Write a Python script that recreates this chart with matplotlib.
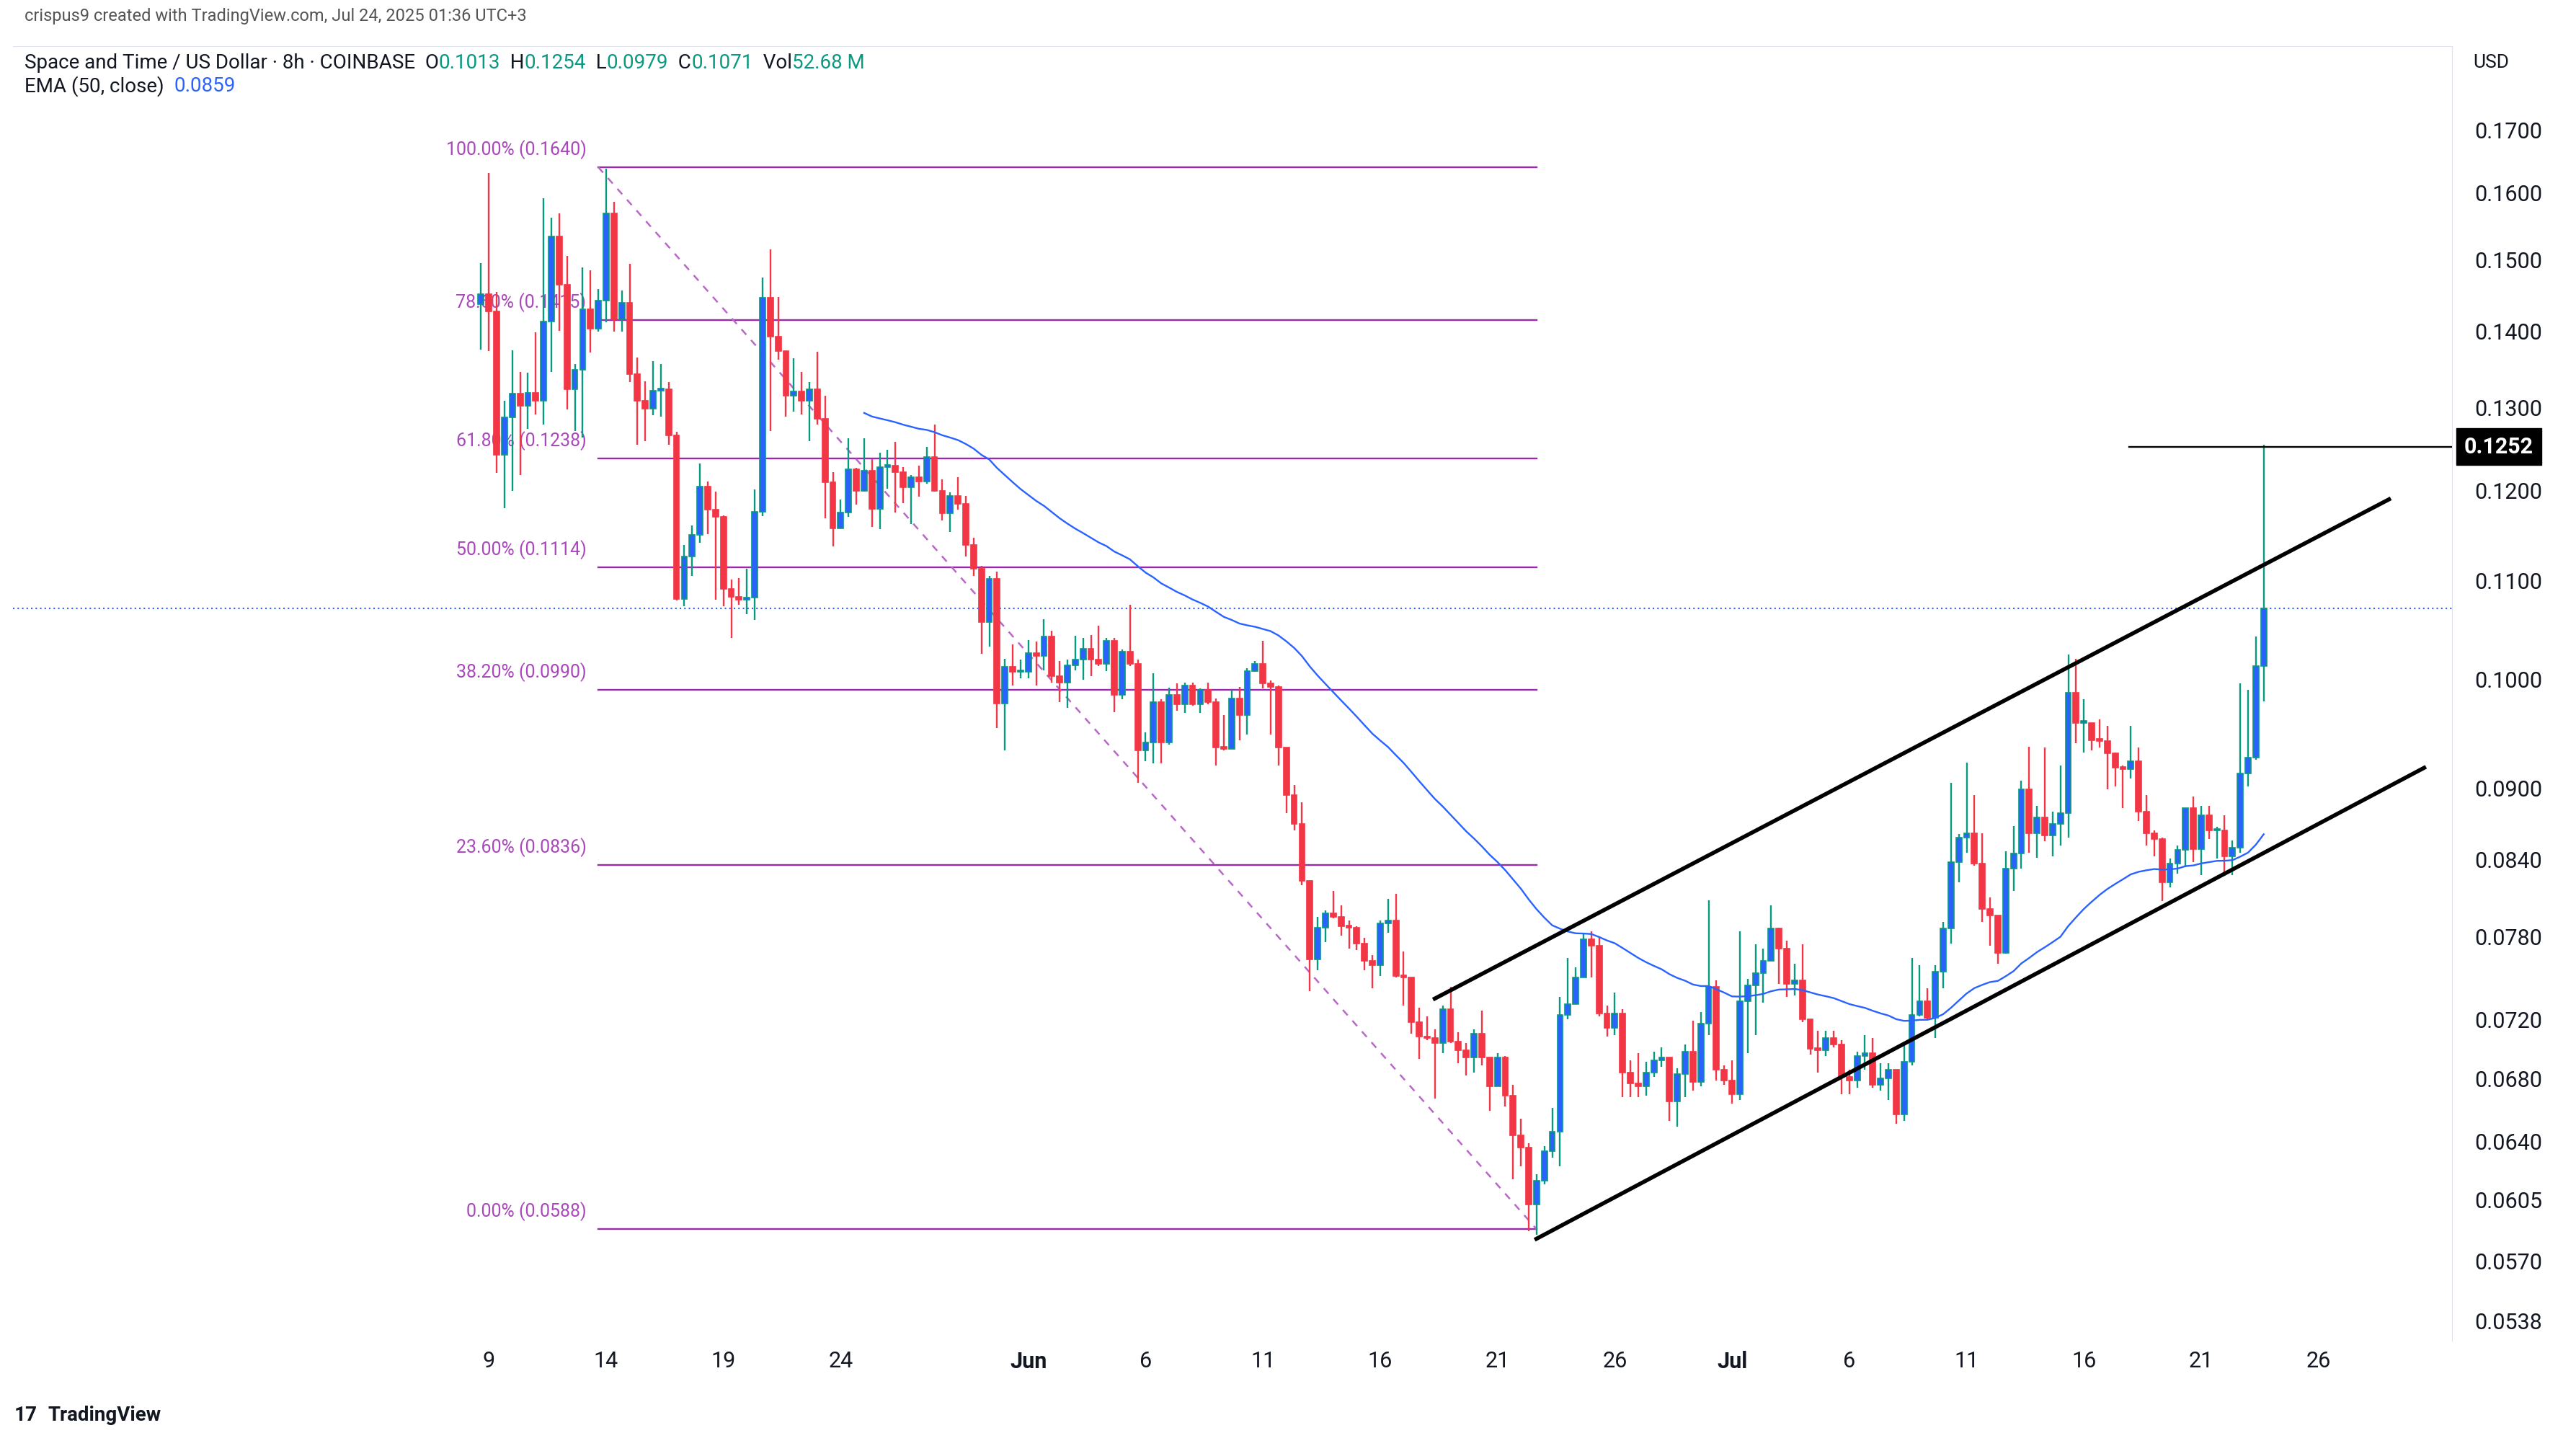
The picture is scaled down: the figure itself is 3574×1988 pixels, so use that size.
import matplotlib
matplotlib.use("Agg")
import matplotlib.pyplot as plt
import matplotlib.dates as mdates
import numpy as np
import pandas as pd
from datetime import datetime

plt.rcParams["font.family"] = "Roboto"

# 8h candles, first one at 2025-05-08 16:00
first_open = 0.1437
closes = [
    0.1451, 0.1427, 0.1242, 0.1288, 0.1318, 0.1302, 0.1319, 0.1309, 0.1413, 0.1534,
    0.1464, 0.1323, 0.1349, 0.1430, 0.1403, 0.1442, 0.1569, 0.1416, 0.1439, 0.1343,
    0.1309, 0.1299, 0.1322, 0.1323, 0.1266, 0.1081, 0.1126, 0.1150, 0.1205, 0.1178,
    0.1170, 0.1091, 0.1083, 0.1080, 0.1082, 0.1176, 0.1446, 0.1392, 0.1373, 0.1315,
    0.1321, 0.1309, 0.1323, 0.1286, 0.1210, 0.1157, 0.1175, 0.1225, 0.1200, 0.1223,
    0.1179, 0.1228, 0.1229, 0.1222, 0.1204, 0.1216, 0.1211, 0.1240, 0.1200, 0.1174,
    0.1194, 0.1185, 0.1139, 0.1113, 0.1057, 0.1102, 0.0977, 0.1012, 0.1007, 0.1007,
    0.1026, 0.1023, 0.1042, 0.1003, 0.0997, 0.1014, 0.1019, 0.1030, 0.1019, 0.1015,
    0.1038, 0.0985, 0.1027, 0.1015, 0.0934, 0.0941, 0.0978, 0.0941, 0.0985, 0.0976,
    0.0994, 0.0976, 0.0990, 0.0978, 0.0936, 0.0935, 0.0982, 0.0966, 0.1008, 0.1015,
    0.0996, 0.0993, 0.0936, 0.0894, 0.0870, 0.0823, 0.0763, 0.0787, 0.0798, 0.0795,
    0.0788, 0.0787, 0.0775, 0.0762, 0.0759, 0.0790, 0.0792, 0.0751, 0.0750, 0.0718,
    0.0708, 0.0707, 0.0704, 0.0727, 0.0705, 0.0699, 0.0694, 0.0710, 0.0694, 0.0675,
    0.0694, 0.0669, 0.0644, 0.0636, 0.0602, 0.0616, 0.0634, 0.0646, 0.0723, 0.0731,
    0.0750, 0.0778, 0.0773, 0.0724, 0.0714, 0.0724, 0.0684, 0.0677, 0.0675, 0.0684,
    0.0692, 0.0694, 0.0665, 0.0683, 0.0698, 0.0678, 0.0717, 0.0743, 0.0686, 0.0679,
    0.0670, 0.0733, 0.0744, 0.0753, 0.0762, 0.0786, 0.0771, 0.0745, 0.0748, 0.0720,
    0.0700, 0.0699, 0.0707, 0.0703, 0.0681, 0.0679, 0.0695, 0.0697, 0.0676, 0.0680,
    0.0686, 0.0657, 0.0691, 0.0723, 0.0733, 0.0721, 0.0754, 0.0786, 0.0838, 0.0858,
    0.0862, 0.0837, 0.0801, 0.0796, 0.0768, 0.0833, 0.0845, 0.0899, 0.0862, 0.0875,
    0.0860, 0.0870, 0.0879, 0.0987, 0.0959, 0.0959, 0.0943, 0.0942, 0.0931, 0.0918,
    0.0917, 0.0924, 0.0880, 0.0862, 0.0857, 0.0822, 0.0837, 0.0848, 0.0883, 0.0849,
    0.0877, 0.0864, 0.0864, 0.0843, 0.0850, 0.0913, 0.0927, 0.1013, 0.1071,
]
highs = [
    0.1495, 0.1631, 0.1454, 0.1309, 0.1374, 0.1346, 0.1345, 0.1398, 0.1592, 0.1562,
    0.1569, 0.1505, 0.1356, 0.1489, 0.1485, 0.1458, 0.1638, 0.1586, 0.1456, 0.1494,
    0.1365, 0.1334, 0.1360, 0.1356, 0.1333, 0.1270, 0.1139, 0.1160, 0.1232, 0.1211,
    0.1199, 0.1172, 0.1101, 0.1103, 0.1113, 0.1201, 0.1474, 0.1515, 0.1447, 0.1372,
    0.1364, 0.1346, 0.1333, 0.1372, 0.1315, 0.1222, 0.1190, 0.1262, 0.1227, 0.1262,
    0.1237, 0.1245, 0.1248, 0.1258, 0.1228, 0.1218, 0.1229, 0.1252, 0.1279, 0.1213,
    0.1198, 0.1216, 0.1194, 0.1147, 0.1116, 0.1105, 0.1110, 0.1020, 0.1034, 0.1019,
    0.1039, 0.1037, 0.1060, 0.1048, 0.1018, 0.1019, 0.1043, 0.1041, 0.1044, 0.1053,
    0.1041, 0.1041, 0.1029, 0.1075, 0.1019, 0.0950, 0.1006, 0.0981, 0.0992, 0.0996,
    0.0997, 0.0997, 0.0991, 0.0997, 0.0982, 0.0966, 0.0990, 0.0993, 0.1011, 0.1018,
    0.1038, 0.0999, 0.0994, 0.0936, 0.0903, 0.0888, 0.0823, 0.0795, 0.0800, 0.0815,
    0.0804, 0.0792, 0.0788, 0.0779, 0.0766, 0.0792, 0.0809, 0.0813, 0.0769, 0.0750,
    0.0728, 0.0722, 0.0713, 0.0730, 0.0743, 0.0711, 0.0704, 0.0713, 0.0726, 0.0694,
    0.0697, 0.0695, 0.0676, 0.0654, 0.0639, 0.0620, 0.0637, 0.0661, 0.0736, 0.0764,
    0.0757, 0.0783, 0.0784, 0.0780, 0.0730, 0.0739, 0.0727, 0.0692, 0.0697, 0.0691,
    0.0698, 0.0701, 0.0693, 0.0687, 0.0703, 0.0719, 0.0725, 0.0808, 0.0748, 0.0689,
    0.0692, 0.0784, 0.0749, 0.0774, 0.0771, 0.0804, 0.0787, 0.0777, 0.0760, 0.0774,
    0.0720, 0.0712, 0.0712, 0.0712, 0.0706, 0.0686, 0.0698, 0.0709, 0.0707, 0.0690,
    0.0690, 0.0685, 0.0705, 0.0764, 0.0759, 0.0742, 0.0759, 0.0791, 0.0905, 0.0861,
    0.0923, 0.0894, 0.0862, 0.0810, 0.0795, 0.0847, 0.0868, 0.0907, 0.0937, 0.0885,
    0.0936, 0.0880, 0.0920, 0.1024, 0.1020, 0.0981, 0.0959, 0.0962, 0.0956, 0.0932,
    0.0920, 0.0956, 0.0936, 0.0894, 0.0864, 0.0858, 0.0841, 0.0852, 0.0883, 0.0893,
    0.0885, 0.0885, 0.0867, 0.0877, 0.0856, 0.0996, 0.0990, 0.1042, 0.1254,
]
lows = [
    0.1375, 0.1373, 0.1221, 0.1180, 0.1200, 0.1218, 0.1274, 0.1292, 0.1279, 0.1346,
    0.1400, 0.1298, 0.1271, 0.1263, 0.1371, 0.1399, 0.1412, 0.1399, 0.1399, 0.1333,
    0.1254, 0.1259, 0.1291, 0.1289, 0.1254, 0.1079, 0.1073, 0.1105, 0.1141, 0.1151,
    0.1080, 0.1073, 0.1041, 0.1075, 0.1065, 0.1059, 0.1171, 0.1271, 0.1362, 0.1289,
    0.1295, 0.1292, 0.1259, 0.1279, 0.1168, 0.1137, 0.1157, 0.1170, 0.1184, 0.1199,
    0.1159, 0.1156, 0.1202, 0.1175, 0.1186, 0.1162, 0.1193, 0.1208, 0.1199, 0.1166,
    0.1153, 0.1178, 0.1126, 0.1105, 0.1025, 0.1032, 0.0954, 0.0934, 0.0994, 0.1001,
    0.1001, 0.0994, 0.1009, 0.0997, 0.0978, 0.0973, 0.1009, 0.1000, 0.1003, 0.1013,
    0.1008, 0.0969, 0.0981, 0.1013, 0.0905, 0.0924, 0.0922, 0.0922, 0.0939, 0.0970,
    0.0968, 0.0975, 0.0968, 0.0976, 0.0920, 0.0934, 0.0935, 0.0943, 0.0948, 0.1007,
    0.0991, 0.0948, 0.0920, 0.0879, 0.0864, 0.0820, 0.0740, 0.0755, 0.0776, 0.0794,
    0.0781, 0.0771, 0.0770, 0.0755, 0.0742, 0.0751, 0.0783, 0.0750, 0.0730, 0.0710,
    0.0693, 0.0706, 0.0667, 0.0697, 0.0704, 0.0690, 0.0682, 0.0684, 0.0689, 0.0659,
    0.0675, 0.0662, 0.0617, 0.0625, 0.0587, 0.0585, 0.0614, 0.0630, 0.0625, 0.0720,
    0.0733, 0.0752, 0.0750, 0.0722, 0.0708, 0.0709, 0.0668, 0.0668, 0.0668, 0.0669,
    0.0681, 0.0688, 0.0653, 0.0649, 0.0668, 0.0672, 0.0675, 0.0709, 0.0679, 0.0676,
    0.0664, 0.0666, 0.0697, 0.0709, 0.0732, 0.0762, 0.0745, 0.0736, 0.0737, 0.0718,
    0.0696, 0.0684, 0.0695, 0.0701, 0.0670, 0.0670, 0.0674, 0.0686, 0.0674, 0.0672,
    0.0666, 0.0651, 0.0653, 0.0689, 0.0722, 0.0720, 0.0707, 0.0742, 0.0775, 0.0822,
    0.0846, 0.0835, 0.0791, 0.0773, 0.0760, 0.0767, 0.0815, 0.0833, 0.0846, 0.0842,
    0.0855, 0.0843, 0.0852, 0.0858, 0.0940, 0.0932, 0.0934, 0.0936, 0.0899, 0.0902,
    0.0883, 0.0909, 0.0872, 0.0852, 0.0843, 0.0807, 0.0818, 0.0829, 0.0834, 0.0838,
    0.0828, 0.0857, 0.0841, 0.0827, 0.0828, 0.0846, 0.0902, 0.0925, 0.0979,
]

# fib retracement between swing high and swing low
fib_pcts = ["100.00%", "78.60%", "61.80%", "50.00%", "38.20%", "23.60%", "0.00%"]
fib_prices = [0.1640, 0.1415, 0.1238, 0.1114, 0.0990, 0.0836, 0.0588]
fib_start = datetime(2025, 5, 13, 16)
fib_end = datetime(2025, 6, 22, 16)

# rising channel drawn on the chart
chan_upper_t = [datetime(2025, 6, 18, 6), datetime(2025, 7, 29, 2)]
chan_upper_p = [0.0734, 0.1191]
chan_lower_t = [datetime(2025, 6, 22, 14), datetime(2025, 7, 30, 14)]
chan_lower_p = [0.0582, 0.0919]

hline_price = 0.1252
hline_start = datetime(2025, 7, 17, 22)
last_price = 0.1071

ytick_vals = [0.1700, 0.1600, 0.1500, 0.1400, 0.1300, 0.1200, 0.1100, 0.1000,
              0.0900, 0.0840, 0.0780, 0.0720, 0.0680, 0.0640, 0.0605, 0.0570, 0.0538]
xtick_days = [(5, 9), (5, 14), (5, 19), (5, 24), (6, 1), (6, 6), (6, 11), (6, 16),
              (6, 21), (6, 26), (7, 1), (7, 6), (7, 11), (7, 16), (7, 21), (7, 26)]

UP_BODY = "#2962ff"
UP_WICK = "#089981"
DOWN = "#f23645"
FIB = "#9c27b0"
TXT = "#131722"

times = pd.date_range("2025-05-08 16:00", periods=len(closes), freq="8h")
x = mdates.date2num(times.to_pydatetime())
c = np.array(closes)
o = np.concatenate([[first_open], c[:-1]])
h = np.maximum(np.array(highs), np.maximum(o, c))
l = np.minimum(np.array(lows), np.minimum(o, c))

# EMA 50 seeded with SMA, shown from bar 50
ema = np.full(len(c), np.nan)
ema[49] = c[:50].mean()
k = 2 / 51
for i in range(50, len(c)):
    ema[i] = c[i] * k + ema[i - 1] * (1 - k)

fig = plt.figure(figsize=(35.74, 19.88), dpi=100)
ax = fig.add_axes([0.005, 0.0645, 0.947, 0.9035])
ax.set_yscale("log")
ax.set_ylim(0.0528, 0.1844)
ax.set_xlim(mdates.date2num(datetime(2025, 4, 18, 17)), mdates.date2num(datetime(2025, 7, 31, 17)))

# fib levels
fx0, fx1 = mdates.date2num(fib_start), mdates.date2num(fib_end)
for pct, p in zip(fib_pcts, fib_prices):
    ax.plot([fx0, fx1], [p, p], color=FIB, lw=1.7, zorder=1)
    ax.annotate(f"{pct} ({p:.4f})", xy=(fx0, p), xytext=(-12, 8), textcoords="offset points",
                ha="right", va="bottom", color="#ab47bc", fontsize=18, zorder=1)
ax.plot([fx0, fx1], [fib_prices[0], fib_prices[-1]], color="#ba68c8", lw=1.8, ls=(0, (4, 4)), zorder=1)

# candles
w = 0.24
for xi, oi, hi, li, ci in zip(x, o, h, l, c):
    up = ci >= oi
    ax.vlines(xi, li, hi, color=UP_WICK if up else DOWN, lw=1.7, zorder=3)
    lo_b, hi_b = min(oi, ci), max(oi, ci)
    if hi_b / lo_b < 1.002:
        hi_b = lo_b * 1.002
    ax.bar(xi, hi_b - lo_b, bottom=lo_b, width=w, color=UP_BODY if up else DOWN,
           edgecolor=UP_WICK if up else DOWN, linewidth=1.2, zorder=4)

ax.plot(x, ema, color=UP_BODY, lw=1.7, zorder=5)

ax.plot(mdates.date2num(chan_upper_t), chan_upper_p, color="black", lw=4, zorder=6, solid_capstyle="butt")
ax.plot(mdates.date2num(chan_lower_t), chan_lower_p, color="black", lw=4, zorder=6, solid_capstyle="butt")

ax.axhline(last_price, color=UP_BODY, lw=1.5, ls=(0, (1, 2)), zorder=2)
ax.plot([mdates.date2num(hline_start), ax.get_xlim()[1]], [hline_price, hline_price],
        color="black", lw=1.7, zorder=6)

# axes styling
for s in ["left", "bottom"]:
    ax.spines[s].set_visible(False)
ax.spines["top"].set_color("#e0e3eb")
ax.spines["right"].set_color("#e0e3eb")
ax.yaxis.tick_right()
ax.yaxis.set_minor_locator(matplotlib.ticker.NullLocator())
ax.set_yticks(ytick_vals)
ax.set_yticklabels([f"{v:.4f}" for v in ytick_vals])
ax.tick_params(axis="y", length=0, pad=22, labelsize=22, labelcolor=TXT)
ax.set_xticks([mdates.date2num(datetime(2025, m, d)) for m, d in xtick_days])
labels = []
for m, d in xtick_days:
    labels.append({6: "Jun", 7: "Jul"}[m] if d == 1 else str(d))
ax.set_xticklabels(labels)
ax.tick_params(axis="x", length=0, pad=10, labelsize=22, labelcolor=TXT)
for lab in ax.get_xticklabels():
    if lab.get_text() in ("Jun", "Jul"):
        lab.set_fontweight("bold")

# price label for horizontal line
ax.annotate(f"{hline_price:.4f}", xy=(1.0, hline_price), xycoords=("axes fraction", "data"),
            xytext=(12, 0), textcoords="offset points", ha="left", va="center",
            color="white", fontsize=22, fontweight="bold",
            bbox=dict(boxstyle="square,pad=0.35", fc="black", ec="black"), annotation_clip=False)

# header texts
fig.text(0.0095, 0.9885, "crispus9 created with TradingView.com, Jul 24, 2025 01:36 UTC+3",
         fontsize=17, color="#555555", va="center")
fig.text(0.96, 0.956, "USD", fontsize=19, color=TXT, va="center")

r = fig.canvas.get_renderer()
parts = [("Space and Time / US Dollar · 8h · COINBASE  O", TXT), ("0.1013", UP_WICK), ("  H", TXT),
         ("0.1254", UP_WICK), ("  L", TXT), ("0.0979", UP_WICK), ("  C", TXT), ("0.1071", UP_WICK),
         ("  Vol", TXT), ("52.68 M", UP_WICK)]
xcur = 0.0095
for txt, col in parts:
    t = fig.text(xcur, 0.956, txt, fontsize=20, color=col, va="center")
    xcur = t.get_window_extent(r).x1 / fig.bbox.width

e1 = fig.text(0.0095, 0.940, "EMA (50, close)  ", fontsize=20, color=TXT, va="center")
fig.text(e1.get_window_extent(r).x1 / fig.bbox.width, 0.940, "0.0859", fontsize=20,
         color=UP_BODY, va="center")

# footer logo
fig.text(0.0055, 0.0125, "17", fontsize=20, fontweight="bold", color=TXT, va="center")
fig.text(0.0185, 0.0125, "TradingView", fontsize=20, color=TXT, va="center", fontweight="bold")

fig.savefig("out.png", dpi=100, facecolor="white")
